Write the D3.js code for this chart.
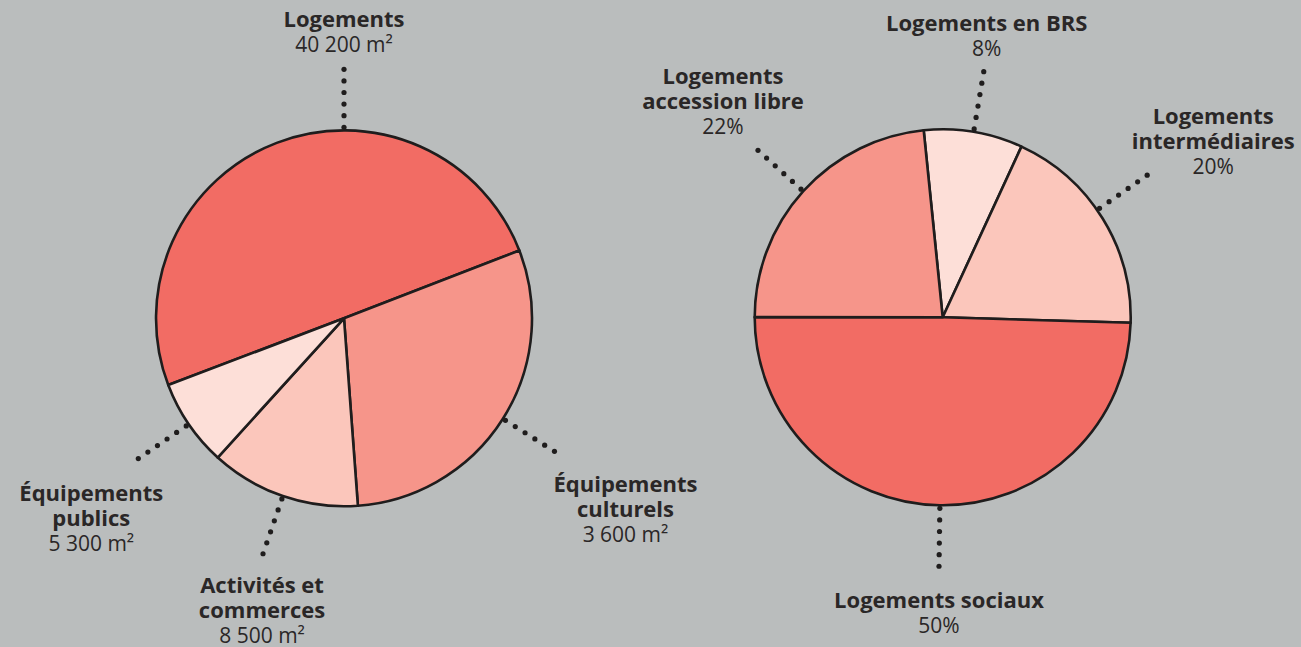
<!DOCTYPE html>
<html>
<head>
<meta charset="utf-8">
<script src="https://cdn.jsdelivr.net/npm/d3@7"></script>
<style>
  html, body { margin: 0; padding: 0; background: #babdbd; }
  svg { display: block; }
  text { font-family: "Open Sans", Lato, sans-serif; fill: #2a2727; }
</style>
</head>
<body>
<div id="chart"></div>
<script>
// Left pie: surfaces (slice sizes read from the drawing, which is not proportional to m²)
var surfNames = [["Logements"], ["Équipements", "culturels"], ["Activités et", "commerces"], ["Équipements", "publics"]];
var surfValues = ["40 200 m²", "3 600 m²", "8 500 m²", "5 300 m²"];
var surfShares = [49.9, 29.7, 12.9, 7.5];

// Right pie: housing mix
var logNames = [["Logements en BRS"], ["Logements", "intermédiaires"], ["Logements sociaux"], ["Logements", "accession libre"]];
var logValues = ["8%", "20%", "50%", "22%"];
var logShares = [8.5, 18.6, 49.6, 23.4];

var colors = ["#f26c64", "#f6958a", "#fbc6bb", "#fddfd8"];
var logColors = ["#fddfd8", "#fbc6bb", "#f26c64", "#f6958a"];

var width = 1301, height = 647;
var radius = 188;

var svg = d3.select("#chart")
  .append("svg")
  .attr("width", width)
  .attr("height", height);

// label layout: leader angle (deg, null = slice middle) and text offset from the leader end
var surfLayout = [
  {angle: 0, dx: 0, dy: -42},
  {angle: null, dx: 71, dy: 41},
  {angle: null, dx: -1, dy: 39},
  {angle: null, dx: -47, dy: 42}
];
var logLayout = [
  {angle: null, dx: 3, dy: -41},
  {angle: 55.2, dx: 66, dy: -51},
  {angle: null, dx: 0, dy: 42},
  {angle: null, dx: -35, dy: -66}
];

function drawPie(cx, cy, shares, fills, names, values, layout, startDeg) {
  var g = svg.append("g")
    .attr("transform", "translate(" + cx + "," + cy + ")");

  var pie = d3.pie()
    .sort(null)
    .value(function(d) { return d; })
    .startAngle(startDeg * Math.PI / 180)
    .endAngle((startDeg + 360) * Math.PI / 180);

  var arc = d3.arc().innerRadius(0).outerRadius(radius);
  var arcs = pie(shares);

  g.selectAll("path")
    .data(arcs)
    .enter()
    .append("path")
    .attr("d", arc)
    .attr("fill", function(d, i) { return fills[i]; })
    .attr("stroke", "#1f1d1d")
    .attr("stroke-width", 2.6)
    .attr("stroke-linejoin", "round");

  arcs.forEach(function(d, i) {
    var lay = layout[i];
    var a = lay.angle === null ? (d.startAngle + d.endAngle) / 2 : lay.angle * Math.PI / 180;
    var rs = d3.range(6).map(function(k) { return 191 + k * 11.6; });

    g.selectAll(null)
      .data(rs)
      .enter()
      .append("circle")
      .attr("cx", function(r) { return r * Math.sin(a); })
      .attr("cy", function(r) { return -r * Math.cos(a); })
      .attr("r", 2.6)
      .attr("fill", "#1f1d1d");

    var ex = 249 * Math.sin(a) + lay.dx;
    var ey = -249 * Math.cos(a) + lay.dy;

    var t = g.append("text")
      .attr("text-anchor", "middle")
      .attr("x", ex)
      .attr("y", ey);

    names[i].forEach(function(line, k) {
      t.append("tspan")
        .attr("x", ex)
        .attr("dy", k === 0 ? 0 : 25)
        .style("font-weight", "bold")
        .style("font-size", "22px")
        .text(line);
    });
    t.append("tspan")
      .attr("x", ex)
      .attr("dy", 25)
      .style("font-size", "21px")
      .text(values[i]);
  });
}

drawPie(344, 318.3, surfShares, colors, surfNames, surfValues, surfLayout, -110.8);
drawPie(942.7, 317.3, logShares, logColors, logNames, logValues, logLayout, -5.8);
</script>
</body>
</html>
